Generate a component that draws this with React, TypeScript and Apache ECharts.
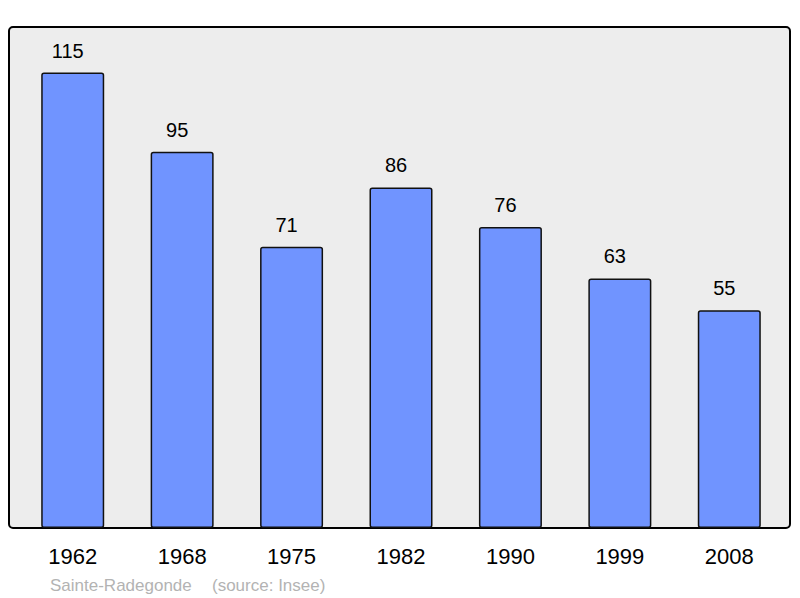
import React, { useEffect, useRef } from "react";
import * as echarts from "echarts";

const years = ["1962", "1968", "1975", "1982", "1990", "1999", "2008"];
const population = [115, 95, 71, 86, 76, 63, 55];
const footerPlace = "Sainte-Radegonde";
const footerSource = "(source: Insee)";

const FONT = "'Liberation Sans', Arial, sans-serif";

export default function App() {
  const ref = useRef<HTMLDivElement>(null);
  useEffect(() => {
    document.body.style.margin = "0";
    const chart = echarts.init(ref.current!, null, { renderer: "svg" });
    chart.setOption({
      animation: false,
      backgroundColor: "#ffffff",
      textStyle: { fontFamily: FONT },
      grid: { left: 18, right: 16, top: 27, bottom: 70 },
      xAxis: {
        type: "category",
        data: years,
        axisLine: { show: false },
        axisTick: { show: false },
        axisLabel: { color: "#000", fontSize: 22, margin: 17, fontFamily: FONT },
      },
      yAxis: {
        type: "value",
        min: 0,
        max: 126.5,
        show: false,
        splitLine: { show: false },
      },
      graphic: [
        {
          type: "rect",
          z: -10,
          shape: { x: 9, y: 27, width: 781, height: 501, r: 4 },
          style: { fill: "#ededed", stroke: "#000", lineWidth: 2 },
          silent: true,
        },
        {
          type: "text",
          x: 50,
          y: 585,
          style: { text: footerPlace, fill: "#b3b3b3", fontSize: 17, fontFamily: FONT, verticalAlign: "middle" },
        },
        {
          type: "text",
          x: 212,
          y: 585,
          style: { text: footerSource, fill: "#b3b3b3", fontSize: 17, fontFamily: FONT, verticalAlign: "middle" },
        },
      ],
      series: [
        {
          type: "bar",
          data: population,
          barWidth: 63,
          z: 5,
          itemStyle: { color: "#7094ff", borderColor: "#111", borderWidth: 1.5, borderRadius: 2 },
          label: {
            show: true,
            position: "top",
            distance: 12,
            offset: [-5, 0],
            color: "#000",
            fontSize: 20,
            fontFamily: FONT,
          },
        },
      ],
    });
    return () => chart.dispose();
  }, []);
  return <div ref={ref} style={{ width: 800, height: 598, position: "absolute", left: 0, top: 0 }} />;
}
